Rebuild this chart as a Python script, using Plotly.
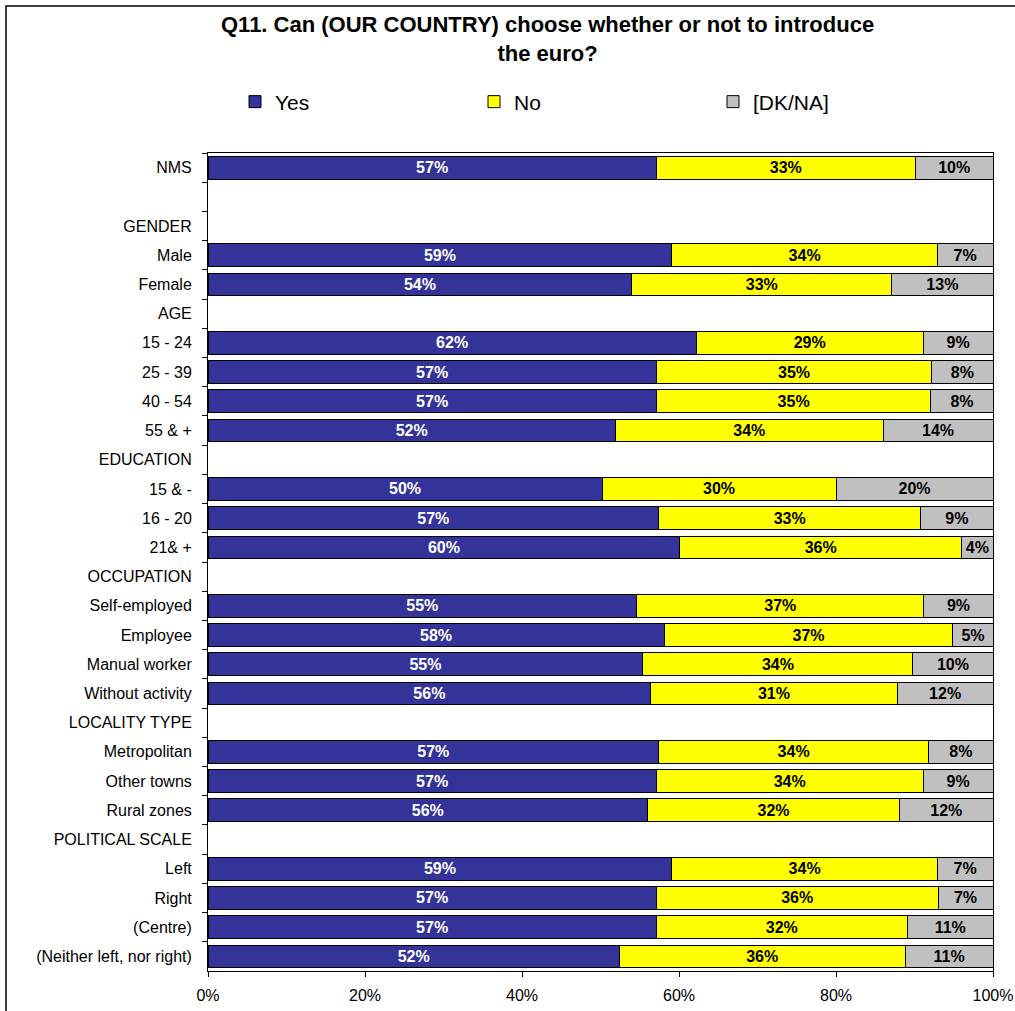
import plotly.graph_objects as go

# Row labels, top to bottom (section headers and the spacer row carry no bars)
categories = [
    "NMS", " ", "GENDER", "Male", "Female", "AGE", "15 - 24", "25 - 39",
    "40 - 54", "55 & +", "EDUCATION", "15 & -", "16 - 20", "21& +",
    "OCCUPATION", "Self-employed", "Employee", "Manual worker",
    "Without activity", "LOCALITY TYPE", "Metropolitan", "Other towns",
    "Rural zones", "POLITICAL SCALE", "Left", "Right", "(Centre)",
    "(Neither left, nor right)",
]

yes_vals = [57.1, None, None, 59.1, 54.0, None, 62.2, 57.1, 57.1, 51.9, None,
            50.2, 57.4, 60.1, None, 54.6, 58.1, 55.4, 56.4, None, 57.4, 57.1,
            56.0, None, 59.1, 57.1, 57.1, 52.4]
no_vals = [33.0, None, None, 33.8, 33.1, None, 28.9, 35.1, 35.0, 34.1, None,
           29.8, 33.4, 35.9, None, 36.6, 36.8, 34.4, 31.4, None, 34.4, 34.0,
           32.1, None, 33.8, 35.9, 32.0, 36.4]
dk_vals = [9.9, None, None, 7.1, 12.9, None, 8.9, 7.8, 7.9, 14.0, None,
           20.0, 9.2, 4.0, None, 8.8, 5.1, 10.2, 12.2, None, 8.2, 8.9,
           11.9, None, 7.1, 7.0, 10.9, 11.2]

x_ticks = [0, 20, 40, 60, 80, 100]
x_tick_labels = ["0%", "20%", "40%", "60%", "80%", "100%"]

series = [
    ("Yes", yes_vals, "#333399", "white"),
    ("No", no_vals, "#FFFF00", "black"),
    ("[DK/NA]", dk_vals, "#C0C0C0", "black"),
]

TITLE = "Q11. Can (OUR COUNTRY) choose whether or not to introduce<br>the euro?"
FONT = "Arial, Liberation Sans, sans-serif"

fig = go.Figure()
for name, vals, color, txtcolor in series:
    fig.add_trace(go.Bar(
        name=name,
        y=categories,
        x=vals,
        orientation="h",
        marker=dict(color=color, line=dict(color="black", width=1)),
        texttemplate="%{x:.0f}%",
        textposition="inside",
        insidetextanchor="middle",
        textangle=0,
        insidetextfont=dict(family=FONT, size=16, color=txtcolor, weight="bold"),
        hoverinfo="skip",
    ))

# plot-area geometry in pixels
L, R, T, B = 208, 993, 153, 971
W, H = 1015, 1011


def px_x(p):
    return (p - L) / (R - L)


def px_y(p):
    return (B - p) / (B - T)


fig.update_layout(
    width=W, height=H,
    margin=dict(l=L, r=W - R, t=T, b=H - B, autoexpand=False),
    barmode="stack",
    bargap=0.22,
    paper_bgcolor="white",
    plot_bgcolor="white",
    font=dict(family=FONT, color="black"),
    uniformtext=dict(minsize=16, mode="show"),
    legend=dict(
        orientation="h",
        x=px_x(235), xanchor="left",
        y=px_y(102), yanchor="middle",
        entrywidth=194, entrywidthmode="pixels",
        font=dict(family=FONT, size=21, color="black"),
        bgcolor="rgba(0,0,0,0)",
        traceorder="normal",
    ),
    xaxis=dict(
        range=[0, 100],
        tickvals=x_ticks,
        ticktext=x_tick_labels,
        ticks="outside", ticklen=5, tickcolor="black",
        showline=True, linecolor="black", linewidth=1, mirror=True,
        showgrid=False, zeroline=False,
        tickfont=dict(family=FONT, size=16, color="black"),
        ticklabelstandoff=5,
        fixedrange=True,
    ),
    yaxis=dict(
        type="category",
        categoryorder="array", categoryarray=categories,
        autorange="reversed",
        tickson="boundaries",
        ticks="outside", ticklen=5, tickcolor="black",
        showline=True, linecolor="black", linewidth=1, mirror=True,
        showgrid=False, zeroline=False,
        tickfont=dict(family=FONT, size=16, color="black"),
        ticklabelstandoff=12,
        fixedrange=True,
    ),
    annotations=[
        dict(text=TITLE, xref="paper", yref="paper",
             x=px_x(547), y=px_y(39), xanchor="center", yanchor="middle",
             showarrow=False, align="center",
             font=dict(family=FONT, size=22, weight="bold", color="black")),
    ],
    shapes=[
        # outer chart frame (only its top and left edges fall inside the page)
        dict(type="rect", xref="paper", yref="paper",
             x0=px_x(6), x1=px_x(1030), y0=px_y(1030), y1=px_y(6),
             line=dict(color="black", width=1.5), fillcolor="rgba(0,0,0,0)",
             layer="below"),
    ],
)

fig.write_html("out.html")
